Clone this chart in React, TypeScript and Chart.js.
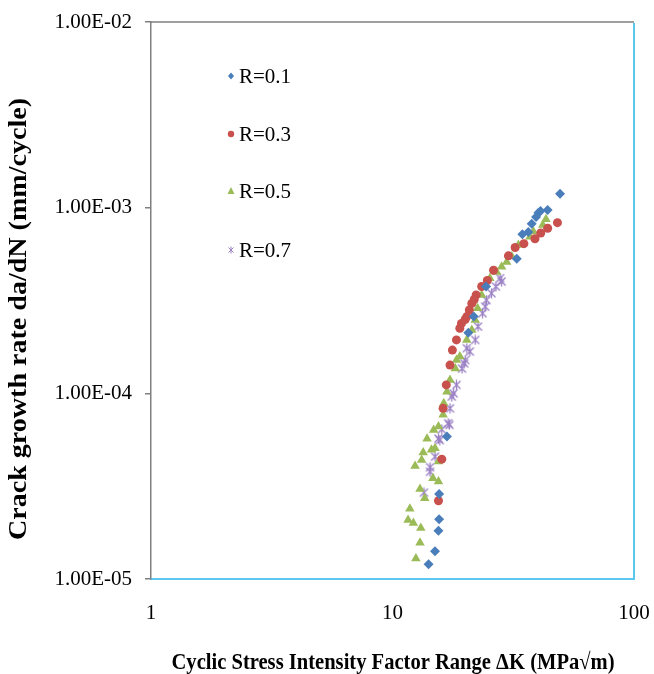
import React, { useEffect, useRef } from "react";
import { Chart, registerables } from "chart.js";

Chart.register(...registerables);

// ---- data ----
const r01X = [49.4, 43.9, 41.0, 40.2, 39.3, 37.7, 36.5, 34.5, 32.7, 24.4, 21.7, 20.6, 16.8, 15.6, 15.6, 15.5, 15.0, 14.1];
const r01Y = [1.19e-3, 9.7e-4, 9.6e-4, 9.4e-4, 8.9e-4, 8.2e-4, 7.4e-4, 7.2e-4, 5.3e-4, 3.76e-4, 2.59e-4, 2.12e-4, 5.85e-5, 2.87e-5, 2.1e-5, 1.82e-5, 1.41e-5, 1.2e-5];

const r03X = [48.2, 43.9, 41.1, 38.9, 35.0, 32.2, 30.2, 26.2, 24.7, 23.4, 22.2, 21.8, 21.3, 20.8, 20.3, 20.0, 19.3, 19.0, 18.4, 17.7, 17.3, 16.7, 16.2, 16.0, 15.5];
const r03Y = [8.3e-4, 7.75e-4, 7.3e-4, 6.8e-4, 6.4e-4, 6.1e-4, 5.5e-4, 4.6e-4, 4.05e-4, 3.76e-4, 3.39e-4, 3.2e-4, 3.05e-4, 2.81e-4, 2.59e-4, 2.5e-4, 2.38e-4, 2.24e-4, 1.94e-4, 1.71e-4, 1.42e-4, 1.11e-4, 8.3e-5, 4.42e-5, 2.64e-5];

const r05X = [43.2, 41.9, 38.3, 37.1, 33.2, 31.2, 29.7, 28.3, 27.0, 25.3, 23.4, 22.5, 22.0, 21.3, 20.3, 19.0, 18.4, 18.2, 17.3, 16.8, 16.3, 16.2, 15.5, 14.8, 13.9, 13.4, 14.5, 15.0, 13.2, 12.4, 15.5, 14.7, 15.5, 13.0, 13.6, 11.8, 11.6, 12.2, 13.1, 13.0, 12.5];
const r05Y = [8.65e-4, 8.07e-4, 7.43e-4, 6.98e-4, 6.3e-4, 5.45e-4, 5.1e-4, 4.8e-4, 4.5e-4, 4.17e-4, 3.39e-4, 2.87e-4, 2.48e-4, 2.19e-4, 1.94e-4, 1.58e-4, 1.51e-4, 1.36e-4, 1.18e-4, 1.02e-4, 8.85e-5, 7.66e-5, 6.62e-5, 6.35e-5, 5.7e-5, 4.8e-5, 4.96e-5, 5.06e-5, 4.38e-5, 4.06e-5, 4.3e-5, 3.49e-5, 3.35e-5, 3.05e-5, 2.72e-5, 2.39e-5, 2.08e-5, 2.0e-5, 1.88e-5, 1.57e-5, 1.29e-5];

const r07X = [28.3, 27.9, 26.8, 25.7, 24.5, 24.2, 23.6, 22.6, 22.0, 20.9, 20.3, 20.0, 19.8, 19.4, 18.4, 17.9, 17.6, 17.3, 17.2, 17.0, 16.0, 15.5, 15.7, 15.0, 14.3, 14.3, 13.5];
const r07Y = [4.0e-4, 4.17e-4, 3.76e-4, 3.46e-4, 3.18e-4, 2.93e-4, 2.7e-4, 2.29e-4, 1.94e-4, 1.68e-4, 1.75e-4, 1.51e-4, 1.45e-4, 1.36e-4, 1.11e-4, 1.0e-4, 9.6e-5, 8.3e-5, 6.76e-5, 6.9e-5, 6.4e-5, 5.7e-5, 5.6e-5, 4.56e-5, 4.0e-5, 3.78e-5, 2.92e-5];

const seriesLabels = ["R=0.1", "R=0.3", "R=0.5", "R=0.7"];
const xTicks = [1, 10, 100];
const yTicks = [1e-5, 1e-4, 1e-3, 1e-2];

const xTitle = "Cyclic Stress Intensity Factor Range \u0394K (MPa\u221Am)";
const yTitle = "Crack growth rate da/dN (mm/cycle)";

const BLUE = "#4A7EBB";
const RED = "#C8504D";
const GREEN = "#9BBB59";
const PURPLE = "#9A80C4";
const CYAN = "#5CC8F0";
const GRAY = "#7F7F7F";

function pts(xs: number[], ys: number[]) {
  return xs.map((x, i) => ({ x, y: ys[i] }));
}

function makeStar(size: number, color: string, lw: number) {
  const c = document.createElement("canvas");
  c.width = size;
  c.height = size;
  const g = c.getContext("2d")!;
  g.strokeStyle = color;
  g.lineWidth = lw;
  const m = 1.5;
  g.beginPath();
  g.moveTo(m, m);
  g.lineTo(size - m, size - m);
  g.moveTo(size - m, m);
  g.lineTo(m, size - m);
  g.moveTo(size / 2, 0.5);
  g.lineTo(size / 2, size - 0.5);
  g.stroke();
  return c;
}

function fmtE(v: number) {
  const e = Math.round(Math.log10(v));
  const s = e < 0 ? "-" : "+";
  return "1.00E" + s + String(Math.abs(e)).padStart(2, "0");
}

const SERIF = "'Liberation Serif', 'Times New Roman', serif";

function fitText(ctx: CanvasRenderingContext2D, text: string, cx: number, cy: number, width: number) {
  const w = ctx.measureText(text).width;
  ctx.save();
  ctx.translate(cx, cy);
  ctx.scale(width / w, 1);
  ctx.fillText(text, 0, 0);
  ctx.restore();
}

export default function App() {
  const ref = useRef<HTMLCanvasElement | null>(null);

  useEffect(() => {
    if (!ref.current) return;
    const star = makeStar(11, PURPLE, 1.3);

    const framePlugin = {
      id: "frameAndText",
      afterDraw(chart: any) {
        const { ctx, chartArea } = chart;
        const { left, top, right, bottom } = chartArea;
        ctx.save();
        // top border gray
        ctx.strokeStyle = GRAY;
        ctx.lineWidth = 1.5;
        ctx.beginPath();
        ctx.moveTo(left, top);
        ctx.lineTo(right, top);
        ctx.stroke();
        // right border cyan
        ctx.strokeStyle = CYAN;
        ctx.lineWidth = 2;
        ctx.beginPath();
        ctx.moveTo(right, top + 1);
        ctx.lineTo(right, bottom);
        ctx.stroke();

        // legend
        const lx = 231;
        const lys = [76, 134, 191, 250];
        ctx.font = "21px " + SERIF;
        ctx.fillStyle = "#000";
        ctx.textBaseline = "middle";
        ctx.textAlign = "left";
        lys.forEach((y, i) => {
          ctx.fillText(seriesLabels[i], lx + 8, y + 1);
        });
        // markers
        ctx.fillStyle = BLUE;
        ctx.beginPath();
        ctx.moveTo(lx, lys[0] - 3.5);
        ctx.lineTo(lx + 3, lys[0]);
        ctx.lineTo(lx, lys[0] + 3.5);
        ctx.lineTo(lx - 3, lys[0]);
        ctx.closePath();
        ctx.fill();
        ctx.fillStyle = RED;
        ctx.beginPath();
        ctx.arc(lx, lys[1], 3.2, 0, Math.PI * 2);
        ctx.fill();
        ctx.fillStyle = GREEN;
        ctx.beginPath();
        ctx.moveTo(lx, lys[2] - 4);
        ctx.lineTo(lx + 3.5, lys[2] + 3);
        ctx.lineTo(lx - 3.5, lys[2] + 3);
        ctx.closePath();
        ctx.fill();
        const s2 = makeStar(8, PURPLE, 1);
        ctx.drawImage(s2, lx - 4, lys[3] - 4);

        // axis titles
        ctx.fillStyle = "#000";
        ctx.textAlign = "center";
        ctx.textBaseline = "middle";
        ctx.font = "bold 23px " + SERIF;
        fitText(ctx, xTitle, 393, 663, 443);
        ctx.translate(20, 319);
        ctx.rotate(-Math.PI / 2);
        ctx.font = "bold 25px " + SERIF;
        fitText(ctx, yTitle, 0, 0, 442);
        ctx.restore();
      },
    };

    const chart = new Chart(ref.current, {
      type: "scatter",
      data: {
        datasets: [
          {
            label: seriesLabels[0],
            data: pts(r01X, r01Y),
            pointStyle: "rectRot",
            pointRadius: 5,
            backgroundColor: BLUE,
            borderColor: BLUE,
            borderWidth: 0,
          },
          {
            label: seriesLabels[1],
            data: pts(r03X, r03Y),
            pointStyle: "circle",
            pointRadius: 4.5,
            backgroundColor: RED,
            borderColor: RED,
            borderWidth: 0,
          },
          {
            label: seriesLabels[2],
            data: pts(r05X, r05Y),
            pointStyle: "triangle",
            pointRadius: 5.5,
            backgroundColor: GREEN,
            borderColor: GREEN,
            borderWidth: 0,
          },
          {
            label: seriesLabels[3],
            data: pts(r07X, r07Y),
            pointStyle: star as any,
            pointRadius: 5,
            backgroundColor: PURPLE,
            borderColor: PURPLE,
          },
        ],
      },
      options: {
        animation: false,
        responsive: false,
        devicePixelRatio: 1,
        layout: { padding: { left: 0, right: 20, top: 22, bottom: 0 } },
        plugins: {
          legend: { display: false },
          tooltip: { enabled: false },
        },
        scales: {
          x: {
            type: "logarithmic",
            min: 1,
            max: 100,
            afterBuildTicks: (s: any) => {
              s.ticks = xTicks.map((v) => ({ value: v, major: true }));
            },
            afterFit: (s: any) => {
              s.height = 95;
              s.paddingLeft = 0;
              s.paddingRight = 0;
            },
            grid: { display: true, drawOnChartArea: false, drawTicks: true, tickLength: 0, color: CYAN },
            border: { display: true, color: CYAN, width: 2 },
            ticks: {
              autoSkip: false,
              maxRotation: 0,
              padding: 22,
              color: "#000",
              font: { family: SERIF, size: 21 },
              callback: (v: any) => String(v),
            },
          },
          y: {
            type: "logarithmic",
            min: 1e-5,
            max: 1e-2,
            afterBuildTicks: (s: any) => {
              s.ticks = yTicks.map((v) => ({ value: v, major: true }));
            },
            afterFit: (s: any) => {
              s.width = 151;
              s.paddingTop = 0;
              s.paddingBottom = 0;
            },
            grid: { display: true, drawOnChartArea: false, drawTicks: true, tickLength: 6, color: GRAY, lineWidth: 1.5 },
            border: { display: true, color: GRAY, width: 1.5 },
            ticks: {
              autoSkip: false,
              padding: 13,
              color: "#000",
              font: { family: SERIF, size: 21 },
              callback: (v: any) => fmtE(Number(v)),
            },
          },
        },
      },
      plugins: [framePlugin],
    });
    return () => chart.destroy();
  }, []);

  return (
    <div style={{ position: "absolute", left: 0, top: 0, width: 654, height: 674, background: "#fff" }}>
      <canvas ref={ref} width={654} height={674} style={{ display: "block" }} />
    </div>
  );
}
